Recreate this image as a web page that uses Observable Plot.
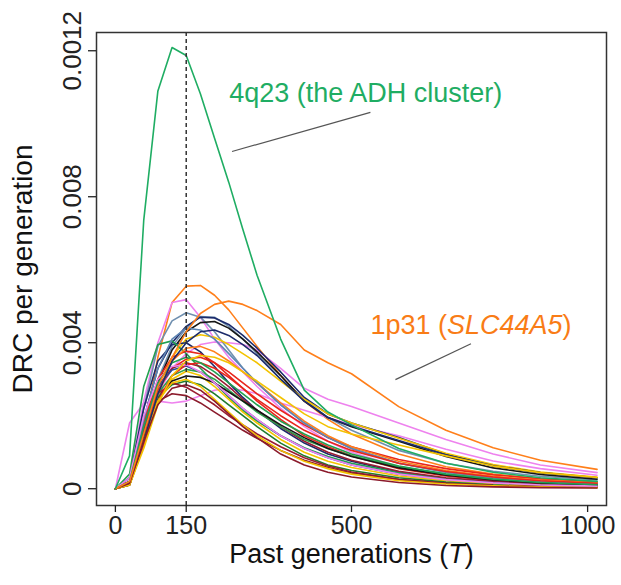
<!DOCTYPE html>
<html>
<head>
<meta charset="utf-8">
<script src="https://cdn.jsdelivr.net/npm/d3@7"></script>
<script src="https://cdn.jsdelivr.net/npm/@observablehq/plot@0.6"></script>
<style>
  html, body { margin: 0; padding: 0; background: #fff; }
  #chart svg { display: block; }
</style>
</head>
<body>
<div id="chart"></div>
<script>
// ---------- data (DRC per generation, in units of 0.001) ----------
const generations = [0, 30, 60, 90, 120, 150, 180, 210, 240, 270, 300, 350, 400, 450, 500, 600, 700, 800, 900, 1020];

const xTicks = [0, 150, 500, 1000];
const yTicks = [0, 4, 8, 12];
const yTickLabels = ["0", "0.004", "0.008", "0.0012"];

const xTitle = "Past generations (T)";
const yTitle = "DRC per generation";

const seriesNames = [
  "orange_a", "pink_a", "pink_b", "pink_c", "slate_a", "slate_b", "navy_a", "black_a",
  "gold_a", "navy_b", "green_b", "red_a", "red_b", "maroon_a", "blue_a", "green_c",
  "gold_b", "black_b", "darkgreen_a", "maroon_b", "maroon_c", "orange_b", "slate_c", "red_c",
  "gold_c", "pink_d", "green_d", "navy_c", "gold_d", "maroon_d", "1p31", "4q23"
];

const seriesColors = [
  "#ff7f1a", "#ee82ee", "#ee82ee", "#ee82ee", "#7090b0", "#7090b0", "#1c2b6b", "#151515",
  "#f3c300", "#1c2b6b", "#22a050", "#e8261c", "#e8261c", "#9a1d32", "#2a4b9a", "#2e9e4c",
  "#f3c300", "#151515", "#1e7b2e", "#9a1d32", "#8b1a2b", "#ff7f1a", "#5f86b3", "#e8261c",
  "#f3c300", "#ee82ee", "#22a050", "#1c2b6b", "#f3c300", "#8b1a2b", "#ff7f1a", "#1fad63"
];

const orange_a    = [0, 0.15, 1.6, 3.6, 5.1, 5.55, 5.57, 5.3, 4.9, 4.4, 3.9, 3.1, 2.4, 1.9, 1.5, 0.95, 0.6, 0.4, 0.27, 0.18];
const pink_a      = [0, 0.3, 2.4, 4.0, 5.1, 5.18, 4.7, 4.1, 3.6, 3.2, 2.8, 2.2, 1.7, 1.3, 1.0, 0.6, 0.38, 0.25, 0.17, 0.12];
const pink_b      = [0, 0.3, 1.6, 2.6, 3.3, 3.7, 3.95, 4.02, 4.0, 3.95, 3.8, 3.3, 2.75, 2.45, 2.25, 1.8, 1.35, 0.95, 0.65, 0.44];
const pink_c      = [0, 1.8, 2.35, 2.4, 2.35, 2.4, 2.55, 2.7, 2.75, 2.7, 2.6, 2.35, 2.15, 1.95, 1.75, 1.45, 1.08, 0.76, 0.55, 0.37];
const slate_a     = [0, 0.2, 2.2, 3.9, 4.6, 4.82, 4.7, 4.3, 3.8, 3.3, 2.9, 2.3, 1.8, 1.4, 1.1, 0.7, 0.45, 0.3, 0.2, 0.14];
const slate_b     = [0, 0.15, 1.6, 3.0, 3.9, 4.4, 4.72, 4.7, 4.45, 4.1, 3.7, 3.0, 2.45, 1.95, 1.6, 1.05, 0.7, 0.48, 0.34, 0.24];
const navy_a      = [0, 0.2, 1.9, 3.3, 4.0, 4.45, 4.7, 4.68, 4.5, 4.2, 3.85, 3.2, 2.5, 2.05, 1.8, 1.4, 0.95, 0.62, 0.43, 0.3];
const black_a     = [0, 0.15, 1.5, 2.9, 3.8, 4.3, 4.55, 4.58, 4.4, 4.1, 3.75, 3.1, 2.4, 1.95, 1.7, 1.3, 0.88, 0.57, 0.39, 0.26];
const gold_a      = [0, 0.1, 1.2, 2.6, 3.6, 4.1, 4.22, 4.15, 3.95, 3.7, 3.45, 2.95, 2.45, 2.05, 1.8, 1.38, 0.97, 0.66, 0.46, 0.31];
const navy_b      = [0, 0.3, 2.2, 3.5, 3.95, 4.0, 3.75, 3.35, 2.9, 2.5, 2.15, 1.65, 1.25, 0.95, 0.75, 0.45, 0.28, 0.18, 0.12, 0.08];
const green_b     = [0, 0.4, 2.8, 3.95, 4.05, 3.7, 3.3, 2.9, 2.5, 2.15, 1.85, 1.45, 1.12, 0.88, 0.7, 0.44, 0.28, 0.18, 0.12, 0.08];
const red_a       = [0, 0.2, 1.8, 3.0, 3.6, 3.77, 3.7, 3.45, 3.1, 2.75, 2.4, 1.9, 1.45, 1.15, 0.9, 0.55, 0.35, 0.22, 0.15, 0.1];
const red_b       = [0, 0.15, 1.5, 2.7, 3.3, 3.55, 3.6, 3.45, 3.2, 2.9, 2.6, 2.15, 1.75, 1.4, 1.15, 0.8, 0.55, 0.38, 0.27, 0.18];
const maroon_a    = [0, 0.15, 1.6, 2.8, 3.3, 3.45, 3.35, 3.1, 2.8, 2.45, 2.15, 1.7, 1.3, 1.0, 0.78, 0.48, 0.3, 0.2, 0.13, 0.09];
const blue_a      = [0, 0.2, 1.7, 2.8, 3.25, 3.36, 3.2, 2.9, 2.55, 2.2, 1.9, 1.45, 1.1, 0.85, 0.65, 0.4, 0.25, 0.16, 0.1, 0.07];
const green_c     = [0, 0.15, 1.5, 2.6, 3.1, 3.27, 3.2, 3.0, 2.7, 2.4, 2.1, 1.7, 1.35, 1.1, 0.9, 0.6, 0.4, 0.27, 0.18, 0.12];
const gold_b      = [0, 0.1, 1.2, 2.4, 3.0, 3.22, 3.1, 2.8, 2.45, 2.1, 1.8, 1.35, 1.0, 0.75, 0.58, 0.35, 0.22, 0.14, 0.09, 0.06];
const black_b     = [0, 0.15, 1.4, 2.5, 2.95, 3.09, 3.05, 2.9, 2.65, 2.4, 2.15, 1.75, 1.4, 1.1, 0.88, 0.57, 0.37, 0.24, 0.16, 0.11];
const darkgreen_a = [0, 0.2, 1.5, 2.5, 2.85, 2.95, 2.85, 2.6, 2.3, 2.0, 1.7, 1.25, 0.9, 0.65, 0.5, 0.3, 0.18, 0.11, 0.07, 0.05];
const maroon_b    = [0, 0.2, 1.6, 2.6, 2.9, 2.78, 2.55, 2.3, 2.0, 1.75, 1.5, 1.15, 0.85, 0.62, 0.46, 0.26, 0.15, 0.09, 0.06, 0.04];
const maroon_c    = [0, 0.2, 1.5, 2.4, 2.6, 2.55, 2.35, 2.1, 1.85, 1.6, 1.38, 1.05, 0.78, 0.58, 0.43, 0.25, 0.15, 0.09, 0.06, 0.04];
const orange_b    = [0, 0.1, 1.3, 2.6, 3.5, 3.85, 3.9, 3.75, 3.5, 3.2, 2.9, 2.35, 1.85, 1.45, 1.15, 0.75, 0.5, 0.34, 0.24, 0.16];
const slate_c     = [0, 0.2, 1.9, 3.3, 4.1, 4.4, 4.35, 4.1, 3.7, 3.3, 2.9, 2.3, 1.8, 1.4, 1.1, 0.7, 0.45, 0.3, 0.2, 0.13];
const red_c       = [0, 0.1, 1.2, 2.4, 3.1, 3.4, 3.45, 3.3, 3.05, 2.75, 2.45, 2.0, 1.6, 1.3, 1.05, 0.7, 0.47, 0.32, 0.22, 0.15];
const gold_c      = [0, 0.1, 1.3, 2.4, 2.9, 3.0, 2.8, 2.45, 2.1, 1.75, 1.45, 1.05, 0.75, 0.55, 0.4, 0.22, 0.13, 0.08, 0.05, 0.03];
const pink_d      = [0, 0.3, 2.0, 3.0, 3.35, 3.4, 3.2, 2.9, 2.55, 2.2, 1.9, 1.45, 1.1, 0.85, 0.65, 0.4, 0.25, 0.16, 0.1, 0.07];
const green_d     = [0, 0.2, 1.7, 2.9, 3.45, 3.6, 3.45, 3.2, 2.9, 2.6, 2.3, 1.85, 1.5, 1.2, 0.95, 0.62, 0.4, 0.26, 0.17, 0.11];
const navy_c      = [0, 0.1, 1.3, 2.6, 3.5, 4.0, 4.3, 4.35, 4.2, 3.95, 3.65, 3.0, 2.4, 1.95, 1.72, 1.32, 0.93, 0.63, 0.44, 0.3];
const gold_d      = [0, 0.1, 1.1, 2.3, 3.1, 3.5, 3.65, 3.6, 3.45, 3.2, 2.95, 2.5, 2.05, 1.7, 1.5, 1.2, 0.9, 0.62, 0.44, 0.31];
const maroon_d    = [0, 0.15, 1.3, 2.3, 2.75, 2.85, 2.7, 2.4, 2.05, 1.7, 1.4, 0.95, 0.65, 0.45, 0.32, 0.17, 0.09, 0.05, 0.03, 0.02];
const slc44a5     = [0, 0.2, 1.5, 2.8, 3.6, 4.3, 4.8, 5.05, 5.14, 5.05, 4.88, 4.5, 3.8, 3.45, 3.15, 2.25, 1.6, 1.12, 0.78, 0.53];
const adh         = [0, 0.9, 7.35, 10.9, 12.09, 11.87, 10.82, 9.6, 8.4, 7.1, 5.85, 4.1, 2.7, 2.1, 1.75, 1.1, 0.7, 0.45, 0.3, 0.2];

const seriesValues = [
  orange_a, pink_a, pink_b, pink_c, slate_a, slate_b, navy_a, black_a,
  gold_a, navy_b, green_b, red_a, red_b, maroon_a, blue_a, green_c,
  gold_b, black_b, darkgreen_a, maroon_b, maroon_c, orange_b, slate_c, red_c,
  gold_c, pink_d, green_d, navy_c, gold_d, maroon_d, slc44a5, adh
];

// annotations (data coordinates)
const annoLabels = ["4q23 (the ADH cluster)", "1p31 (SLC44A5)"];
const annoColors = ["#1fad63", "#f97c16"];
const annoX = [241, 540];
const annoY = [10.6, 4.25];
const leaderX1 = [247, 593];
const leaderY1 = [9.24, 2.99];
const leaderX2 = [540, 753];
const leaderY2 = [10.31, 3.97];
const markerT = [150];

// ---------- build tables ----------
const rows = [];
seriesValues.forEach((vals, i) => {
  vals.forEach((v, j) => rows.push({series: seriesNames[i], color: seriesColors[i], T: generations[j], v}));
});
const annos = annoLabels.map((label, i) => ({label, color: annoColors[i], x: annoX[i], y: annoY[i]}));
const leaders = leaderX1.map((x1, i) => ({x1, y1: leaderY1[i], x2: leaderX2[i], y2: leaderY2[i]}));

const font = '"Liberation Sans", Arial, Helvetica, sans-serif';

const chart = Plot.plot({
  width: 621,
  height: 585,
  marginLeft: 96,
  marginRight: 15,
  marginTop: 32,
  marginBottom: 80,
  style: {fontFamily: font, color: "#222", background: "#fff", overflow: "visible"},
  x: {domain: [-40, 1040]},
  y: {domain: [-0.46, 12.5]},
  marks: [
    Plot.line(rows, {x: "T", y: "v", z: "series", stroke: "color", strokeWidth: 1.6, strokeLinejoin: "round"}),
    Plot.ruleX(markerT, {stroke: "#333", strokeWidth: 1.5, strokeDasharray: "4,3"}),
    Plot.link(leaders, {x1: "x1", y1: "y1", x2: "x2", y2: "y2", stroke: "#555", strokeWidth: 1.2}),
    Plot.text(annos, {x: "x", y: "y", text: "label", fill: "color", textAnchor: "start", lineAnchor: "bottom", fontSize: 27}),
    Plot.frame({stroke: "#333", strokeWidth: 1.5}),
    Plot.axisX({ticks: xTicks, tickSize: 7, tickPadding: 4, fontSize: 25, label: null, strokeWidth: 1.3,
      tickFormat: d => String(d)}),
    Plot.axisY({ticks: yTicks, tickSize: 8, tickPadding: 8, tickRotate: -90, fontSize: 26, label: null, strokeWidth: 1.3,
      tickFormat: d => yTickLabels[yTicks.indexOf(d)]}),
    Plot.text([yTitle], {frameAnchor: "left", dx: -73, rotate: -90, textAnchor: "middle", lineAnchor: "middle", fontSize: 28, text: d => d, fill: "#111"}),
    Plot.text([xTitle], {frameAnchor: "bottom", dy: 57, textAnchor: "middle", lineAnchor: "bottom", fontSize: 27, text: d => d, fill: "#111"})
  ]
});

// italic parts (real text, split into tspans)
function italicize(full, before, ital, after) {
  d3.select(chart).selectAll("text")
    .filter(function () { return this.textContent === full; })
    .each(function () {
      const t = d3.select(this);
      t.text(null);
      t.append("tspan").text(before);
      t.append("tspan").attr("font-style", "italic").text(ital);
      t.append("tspan").text(after);
    });
}
italicize(xTitle, "Past generations (", "T", ")");
italicize(annoLabels[1], "1p31 (", "SLC44A5", ")");

document.getElementById("chart").appendChild(chart);
</script>
</body>
</html>
